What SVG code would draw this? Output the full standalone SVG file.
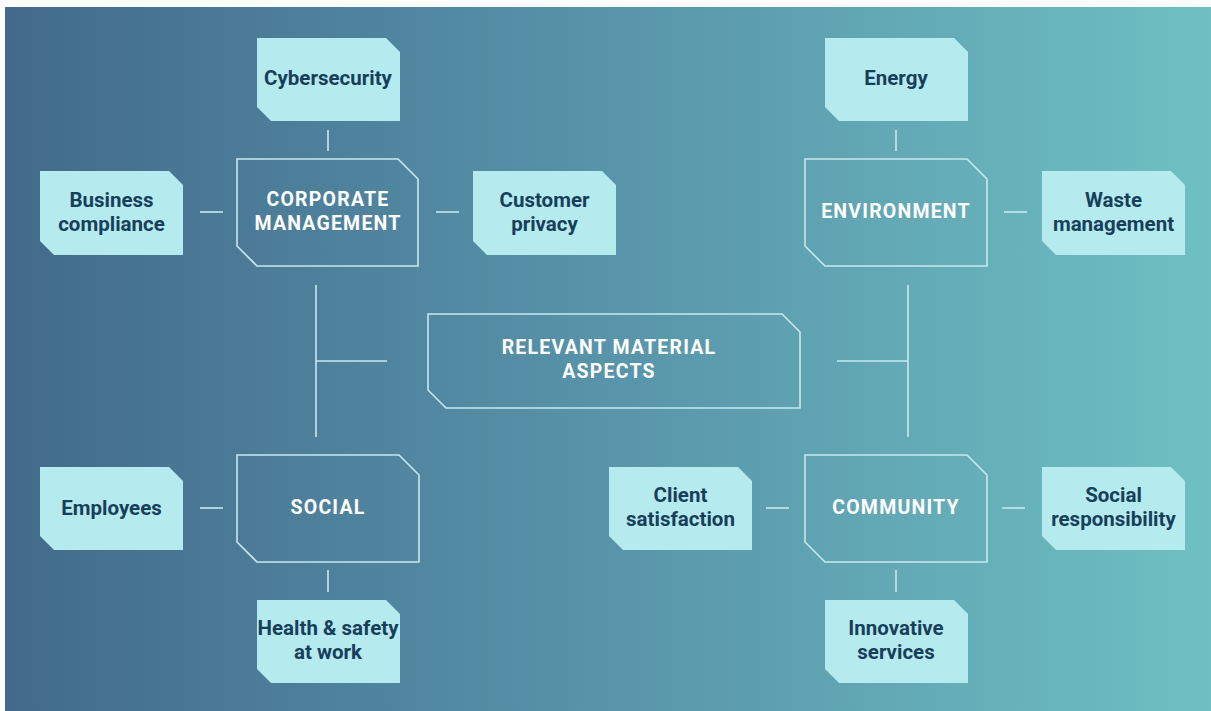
<svg xmlns="http://www.w3.org/2000/svg" width="1211" height="711" viewBox="0 0 1211 711">
<defs>
<linearGradient id="bg" x1="0" y1="0" x2="1" y2="0">
<stop offset="0" stop-color="#426a8b"/>
<stop offset="0.5" stop-color="#5894aa"/>
<stop offset="1" stop-color="#6ec0c2"/>
</linearGradient>
<style>
.leaf{fill:#b5eaef;}
.hub{fill:none;stroke:#c9e8ee;stroke-width:1.6;}
.lt{font-family:Roboto,"Liberation Sans",sans-serif;font-weight:700;font-size:20.5px;fill:#173f5a;text-anchor:middle;}
.ht{font-family:Roboto,"Liberation Sans",sans-serif;font-weight:700;font-size:19.5px;fill:#ffffff;text-anchor:middle;letter-spacing:1.2px;}
.con line{stroke:#c9e8ee;stroke-width:1.6;}
</style>
</defs>
<rect x="0" y="0" width="1211" height="711" fill="#ffffff"/>
<rect x="5" y="7" width="1206" height="704" fill="url(#bg)"/>

<g id="connectors" class="con">
<line x1="328" y1="130" x2="328" y2="151"/>
<line x1="896" y1="130" x2="896" y2="151"/>
<line x1="200" y1="212" x2="223" y2="212"/>
<line x1="436" y1="212" x2="459" y2="212"/>
<line x1="1004" y1="212" x2="1027" y2="212"/>
<line x1="200" y1="508" x2="223" y2="508"/>
<line x1="766" y1="508" x2="789" y2="508"/>
<line x1="1002" y1="508" x2="1025" y2="508"/>
<line x1="328" y1="570" x2="328" y2="592"/>
<line x1="896" y1="570" x2="896" y2="592"/>
<line x1="316" y1="285" x2="316" y2="437"/>
<line x1="316" y1="361" x2="387" y2="361"/>
<line x1="908" y1="285" x2="908" y2="437"/>
<line x1="837" y1="361" x2="908" y2="361"/>
</g>

<g id="center">
<path class="hub" d="M428,314 H782 L800,332 V408 H446 L428,390 Z"/>
<text class="ht" x="609" y="354">RELEVANT MATERIAL</text>
<text class="ht" x="609" y="378">ASPECTS</text>
</g>

<g id="corporate">
<path class="hub" d="M237,159 H398 L418,179 V266 H257 L237,246 Z"/>
<text class="ht" x="328" y="206">CORPORATE</text>
<text class="ht" x="328" y="230">MANAGEMENT</text>
</g>
<g id="environment">
<path class="hub" d="M805,159 H967 L987,179 V266 H825 L805,246 Z"/>
<text class="ht" x="896" y="218">ENVIRONMENT</text>
</g>
<g id="social">
<path class="hub" d="M237,455 H399 L419,475 V562 H257 L237,542 Z"/>
<text class="ht" x="328" y="514">SOCIAL</text>
</g>
<g id="community">
<path class="hub" d="M805,455 H967 L987,475 V562 H825 L805,542 Z"/>
<text class="ht" x="896" y="514">COMMUNITY</text>
</g>

<g id="cybersecurity">
<path class="leaf" d="M257,38 H386 L400,52 V121 H271 L257,107 Z"/>
<text class="lt" x="328" y="85">Cybersecurity</text>
</g>
<g id="energy">
<path class="leaf" d="M825,38 H954 L968,52 V121 H839 L825,107 Z"/>
<text class="lt" x="896" y="85">Energy</text>
</g>
<g id="business-compliance">
<path class="leaf" d="M40,171 H169 L183,185 V255 H54 L40,241 Z"/>
<text class="lt" x="111.5" y="207">Business</text>
<text class="lt" x="111.5" y="231">compliance</text>
</g>
<g id="customer-privacy">
<path class="leaf" d="M473,171 H602 L616,185 V255 H487 L473,241 Z"/>
<text class="lt" x="544.5" y="207">Customer</text>
<text class="lt" x="544.5" y="231">privacy</text>
</g>
<g id="waste-management">
<path class="leaf" d="M1042,171 H1171 L1185,185 V255 H1056 L1042,241 Z"/>
<text class="lt" x="1113.5" y="207">Waste</text>
<text class="lt" x="1113.5" y="231">management</text>
</g>
<g id="employees">
<path class="leaf" d="M40,467 H169 L183,481 V550 H54 L40,536 Z"/>
<text class="lt" x="111.5" y="515">Employees</text>
</g>
<g id="client-satisfaction">
<path class="leaf" d="M609,467 H738 L752,481 V550 H623 L609,536 Z"/>
<text class="lt" x="680.5" y="502">Client</text>
<text class="lt" x="680.5" y="526">satisfaction</text>
</g>
<g id="social-responsibility">
<path class="leaf" d="M1042,467 H1171 L1185,481 V550 H1056 L1042,536 Z"/>
<text class="lt" x="1113.5" y="502">Social</text>
<text class="lt" x="1113.5" y="526">responsibility</text>
</g>
<g id="health-safety">
<path class="leaf" d="M257,600 H386 L400,614 V683 H271 L257,669 Z"/>
<text class="lt" x="328" y="635">Health &amp; safety</text>
<text class="lt" x="328" y="659">at work</text>
</g>
<g id="innovative-services">
<path class="leaf" d="M825,600 H954 L968,614 V683 H839 L825,669 Z"/>
<text class="lt" x="896" y="635">Innovative</text>
<text class="lt" x="896" y="659">services</text>
</g>
</svg>
